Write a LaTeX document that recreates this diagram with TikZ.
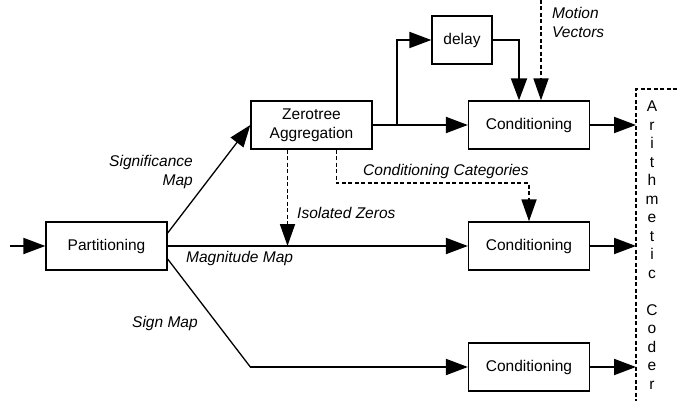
\documentclass[tikz,border=0pt]{standalone}
\usepackage{fontspec}
\setmainfont{Liberation Sans}
\usetikzlibrary{positioning,arrows.meta,calc}

\begin{document}
\begin{tikzpicture}[
        x=1pt,
        y=-1pt,
        font=\fontsize{15.5}{19}\selectfont,
        box/.style={draw, line width=1.3pt, minimum width=121pt, minimum height=48pt, inner sep=2pt, align=center},
        flow/.style={-{Triangle[length=22pt,width=16pt]}, line width=2pt},
        diag/.style={line width=1.3pt},
        dflow/.style={-{Triangle[length=22pt,width=15pt]}, line width=1.8pt, dash pattern=on 4pt off 2.5pt},
        dline/.style={line width=1.6pt, dash pattern=on 4pt off 2.5pt},
        lbl/.style={font=\fontsize{15.5}{19}\selectfont\itshape, inner sep=0pt}
    ]
        \useasboundingbox (0,0) rectangle (677,401);

        % blocks
        \node[box] (part) at (106.5,246) {Partitioning};
        \node[box] (zt) at (311.5,125) {Zerotree\\Aggregation};
        \node[box, minimum width=60pt] (delay) at (462,40) {delay};
        \node[box] (condA) at (529,125) {Conditioning};
        \node[box] (condB) at (529,246) {Conditioning};
        \node[box] (condC) at (529,367) {Conditioning};

        % arithmetic coder, cut by the page edge
        \coordinate (ctr) at (677,89);
        \coordinate (ctl) at (636,89);
        \coordinate (cbl) at (636,401);
        \draw[dline] (ctr) -- (ctl) -- (cbl);
        \node[inner sep=0pt, align=center, font=\fontsize{15.5}{18.5}\selectfont] (coder) at (652,245)
            {A\\r\\i\\t\\h\\m\\e\\t\\i\\c\\[18.5pt]C\\o\\d\\e\\r};

        % input and the three maps
        \coordinate (in) at (10,246);
        \draw[flow] (in) -- (part.west);
        \draw[flow, line width=1.3pt] ([yshift=13pt]part.east) -- (zt.west);
        \draw[flow] (part.east) -- (condB.west);
        \coordinate (bend) at (zt.west |- condC.west);
        \draw[diag] ([yshift=-13pt]part.east) -- (bend);
        \draw[flow] (bend) -- (condC.west);

        % zerotree output and delay loop
        \draw[flow] (zt.east) -- (condA.west);
        \coordinate (split) at (397,125);
        \draw[flow] (split) |- (delay.west);
        \draw[flow] (delay.east) -| ([xshift=-10pt]condA.north);

        % side information (dashed)
        \coordinate (mv) at (541,0);
        \draw[dflow] (mv) -- ([xshift=12pt]condA.north);
        \draw[dflow] ([xshift=-24pt]zt.south) coordinate (iz) -- (iz |- part.east);
        \draw[dflow] ([xshift=25pt]zt.south) |- ([yshift=38pt]condB.north) -- (condB.north);

        % to the coder
        \draw[flow] (condA.east) -- (condA.east -| ctl);
        \draw[flow] (condB.east) -- (condB.east -| ctl);
        \draw[flow] (condC.east) -- (condC.east -| ctl);

        % labels
        \node[lbl, align=right, anchor=east] (sig) at (193,171.5) {Significance\\Map};
        \node[lbl, anchor=west] (mag) at (186,258) {Magnitude Map};
        \node[lbl, anchor=west] (sgn) at (132,323) {Sign Map};
        \node[lbl, anchor=west] (iso) at (297,213) {Isolated Zeros};
        \node[lbl, anchor=west] (cat) at (363,171) {Conditioning Categories};
        \node[lbl, align=left, anchor=west] (mot) at (552,22.5) {Motion\\Vectors};
    \end{tikzpicture}
\end{document}
